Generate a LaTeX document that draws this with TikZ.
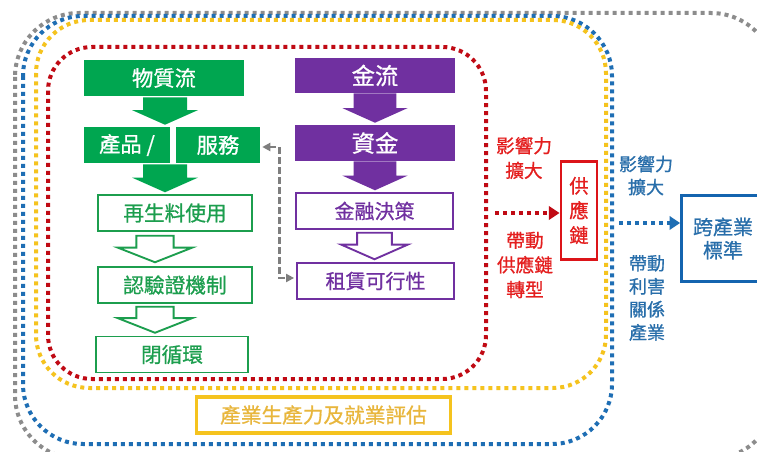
\documentclass[tikz,border=0pt]{standalone}
\usepackage{fontspec}
\setmainfont{Noto Sans CJK TC}[FakeBold=0.8]
\usetikzlibrary{calc,arrows.meta}
\definecolor{gfill}{RGB}{0,166,80}
\definecolor{gtext}{RGB}{28,158,78}
\definecolor{purp}{RGB}{112,48,160}
\definecolor{cred}{RGB}{192,10,20}
\definecolor{rtext}{RGB}{228,30,30}
\definecolor{rbox}{RGB}{220,20,25}
\definecolor{cblue}{RGB}{30,110,180}
\definecolor{btext}{RGB}{40,110,170}
\definecolor{bbox}{RGB}{20,100,175}
\definecolor{cyellow}{RGB}{245,195,30}
\definecolor{ytext}{RGB}{232,182,60}
\definecolor{cgray}{RGB}{140,140,140}
\newcommand\blkarr[6]{\path[#1] let \p1=#2, \p2=#3 in (\x1-#4,\y1) -- (\x1+#4,\y1) -- (\x1+#4,\y2+#6) -- (\x1+#5,\y2+#6) -- (\x1,\y2) -- (\x1-#5,\y2+#6) -- (\x1-#4,\y2+#6) -- cycle;}
\begin{document}
\begin{tikzpicture}[x=0.75pt,y=-0.75pt,
  dotline/.style={line width=3pt, dash pattern=on 3pt off 3pt},
  gbox/.style={fill=gfill, text=white, inner sep=0pt, minimum height=27pt, font=\fontsize{16}{18}\selectfont},
  gobox/.style={draw=gtext, line width=1.1pt, fill=white, text=gtext, inner sep=0pt, minimum width=115.5pt, minimum height=27pt, font=\fontsize{15.5}{18}\selectfont},
  pbox/.style={fill=purp, text=white, inner sep=0pt, minimum width=120pt, minimum height=27pt, font=\fontsize{17.5}{20}\selectfont},
  pobox/.style={draw=purp, line width=1.1pt, fill=white, text=purp, inner sep=0pt, minimum width=118pt, minimum height=27pt, font=\fontsize{15}{18}\selectfont},
  redtxt/.style={text=rtext, align=center, font=\fontsize{14}{18.5}\selectfont},
  bluetxt/.style={text=btext, align=center, font=\fontsize{13.5}{17.3}\selectfont},
  gfarrow/.style={fill=gfill},
  goarrow/.style={draw=gtext, line width=1.4pt, fill=white, line join=miter},
  pfarrow/.style={fill=purp},
  poarrow/.style={draw=purp, line width=1.4pt, fill=white, line join=miter},
  grayconn/.style={draw=cgray!90!black, line width=2pt, dash pattern=on 5pt off 2.5pt, {Triangle[length=6pt,width=6pt]}-{Triangle[length=6pt,width=6pt]}}
]
\path[use as bounding box, fill=white] (0,0) rectangle (757,452);
\clip (0,0) rectangle (757,452);

% dotted regions
\draw[dotline, cgray, rounded corners=48pt] (15,13) rectangle (775,459);
\draw[dotline, cblue, rounded corners=45pt] (23,16) rectangle (612,444);
\draw[dotline, cyellow, rounded corners=40pt] (36,20) rectangle (606,388);
\draw[dotline, cred, rounded corners=33pt] (48,47) rectangle (486,379);

% green column
\node[gbox, minimum width=120pt] (wz) at (164,78) {物質流};
\node[gbox, minimum width=64.5pt] (cp) at (127,145) {產品 /};
\node[gbox, minimum width=63pt] (fw) at (218,145) {服務};
\node[gobox] (zs) at (175,213) {再生料使用};
\node[gobox] (ry) at (175,285) {認驗證機制};
\node[gobox, minimum width=114pt] (bx) at (172,354.5) {閉循環};

\blkarr{gfarrow}{($(wz.south)+(1,1)$)}{($(cp.north)+(38,-2)$)}{16.5pt}{24.75pt}{11pt}
\blkarr{gfarrow}{($(cp.south)+(38,1)$)}{($(zs.north)+(-10,-2)$)}{16.5pt}{24.75pt}{11pt}
\blkarr{goarrow}{($(zs.south)+(-20,4)$)}{($(ry.north)+(-20,-4)$)}{14pt}{28pt}{11pt}
\blkarr{goarrow}{($(ry.south)+(-20,3)$)}{($(bx.north)+(-17,-3)$)}{14pt}{28pt}{11pt}

% purple column
\node[pbox, minimum height=26.25pt] (jl) at (375,75.5) {金流};
\node[pbox] (zj) at (375,143) {資金};
\node[pobox] (jr) at (374.5,211) {金融決策};
\node[pobox] (zl) at (375.5,281) {租賃可行性};

\blkarr{pfarrow}{($(jl.south)+(0,0)$)}{($(zj.north)+(0,-2)$)}{16pt}{24.5pt}{11pt}
\blkarr{pfarrow}{($(zj.south)+(0,0)$)}{($(jr.north)+(0,-2)$)}{16pt}{24.5pt}{11pt}
\blkarr{poarrow}{($(jr.south)+(0,3)$)}{($(zl.north)+(0,-3)$)}{13pt}{25pt}{11pt}

% gray dashed feedback
\draw[grayconn] ($(fw.east)+(2,2)$) -- ++(17,0) |- ($(zl.west)+(-2,-3)$);

% supply chain
\node[draw=rbox, line width=2.2pt, fill=white, text=rtext, inner sep=0pt, minimum width=27pt, minimum height=74pt, align=center, font=\fontsize{14.5}{18.5}\selectfont] (gy) at (579,210.5) {供\\應\\鏈};
\node[redtxt] (r1) at (524,158) {影響力\\擴大};
\node[redtxt] (r2) at (525,265) {帶動\\供應鏈\\轉型};
\coordinate (rs) at (495,213);
\draw[dotline, cred, -{Triangle[length=8pt,width=10pt]}] (rs) -- (gy.west |- rs);

% cross industry
\node[draw=bbox, line width=2.2pt, fill=white, text=btext, inner sep=0pt, minimum width=62pt, minimum height=65pt, align=center, font=\fontsize{15}{17.5}\selectfont] (ky) at (723,238.5) {跨產業\\標準};
\node[bluetxt] (b1) at (646,175.5) {影響力\\擴大};
\node[bluetxt] (b2) at (647,298) {帶動\\利害\\關係\\產業};
\coordinate (bs) at (619,223);
\draw[dotline, cblue, -{Triangle[length=8pt,width=10pt]}] (bs) -- (ky.west |- bs);

% yellow box
\node[draw=cyellow, line width=2.4pt, fill=white, text=ytext, inner sep=0pt, minimum width=190pt, minimum height=27pt, font=\fontsize{15.5}{18}\selectfont] (cy) at (323.5,415) {產業生產力及就業評估};
\end{tikzpicture}
\end{document}
